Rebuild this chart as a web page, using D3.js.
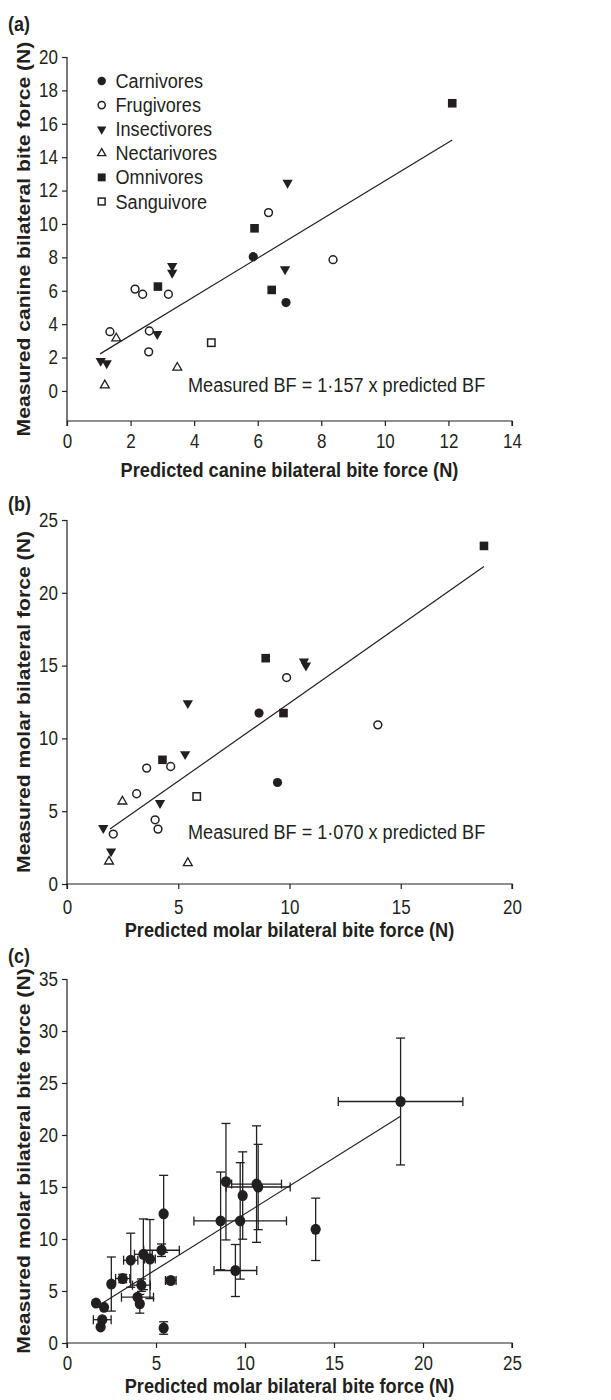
<!DOCTYPE html>
<html>
<head>
<meta charset="utf-8">
<script src="https://cdn.jsdelivr.net/npm/d3@7"></script>
<style>
  body { margin: 0; background: #fff; }
  text { font-family: "Liberation Sans", Arial, Helvetica, sans-serif; fill: #231f20; }
  .axis path, .axis line { stroke: #231f20; stroke-width: 1.2; }
  .axis text { font-size: 17px; }
</style>
</head>
<body>
<div id="chart"></div>
<script>
// Diet groups (legend order)
var dietGroups = ["Carnivores", "Frugivores", "Insectivores", "Nectarivores", "Omnivores", "Sanguivore"];

// (a) canine bite force
var canineDiet = ["Omnivores", "Omnivores", "Omnivores", "Omnivores",
  "Insectivores", "Insectivores", "Insectivores", "Insectivores", "Insectivores", "Insectivores", "Insectivores",
  "Frugivores", "Frugivores", "Frugivores", "Frugivores", "Frugivores", "Frugivores", "Frugivores", "Frugivores",
  "Carnivores", "Carnivores", "Sanguivore", "Nectarivores", "Nectarivores", "Nectarivores"];
var canineX = [12.12, 5.9, 2.86, 6.44,
  6.94, 3.31, 3.31, 6.86, 2.84, 1.06, 1.25,
  6.34, 8.37, 2.14, 2.38, 3.19, 1.35, 2.59, 2.57,
  5.86, 6.89, 4.54, 1.55, 3.47, 1.19];
var canineY = [17.23, 9.74, 6.25, 6.05,
  12.47, 7.48, 7.08, 7.29, 3.41, 1.8, 1.66,
  10.68, 7.86, 6.1, 5.79, 5.79, 3.55, 3.59, 2.34,
  8.04, 5.29, 2.89, 3.15, 1.4, 0.34];
var canineFitX = [1.04, 12.12];
var canineFitY = [2.22, 15.03];

// (b) and (c) molar bite force
var molarDiet = ["Omnivores", "Omnivores", "Omnivores", "Omnivores",
  "Insectivores", "Insectivores", "Insectivores", "Insectivores", "Insectivores", "Insectivores", "Insectivores",
  "Frugivores", "Frugivores", "Frugivores", "Frugivores", "Frugivores", "Frugivores", "Frugivores", "Frugivores",
  "Carnivores", "Carnivores", "Sanguivore", "Nectarivores", "Nectarivores", "Nectarivores"];
var molarX = [18.74, 8.93, 9.73, 4.29,
  10.65, 10.74, 5.43, 5.31, 4.18, 1.63, 1.98,
  9.87, 13.97, 4.66, 3.58, 3.13, 3.96, 4.09, 2.08,
  8.63, 9.46, 5.83, 2.49, 1.89, 5.43];
var molarY = [23.22, 15.51, 11.74, 8.53,
  15.28, 15.0, 12.42, 8.92, 5.56, 3.84, 2.24,
  14.18, 10.93, 8.07, 7.96, 6.2, 4.41, 3.77, 3.43,
  11.74, 6.97, 6.01, 5.67, 1.55, 1.44];
var molarXErr = [3.5, 0, 2.6, 0.5,
  1.4, 1.8, 0, 1.0, 0.5, 0, 0.5,
  0, 0, 0.3, 0.4, 0.4, 0.9, 0, 0,
  0, 1.2, 0.3, 0, 0, 0];
var molarYErr = [6.1, 5.6, 5.6, 3.4,
  5.6, 4.1, 3.7, 0.6, 0.6, 0, 0,
  4.2, 3.0, 3.8, 2.6, 0.4, 0, 0.9, 0,
  4.7, 2.5, 0.3, 2.6, 0, 0.6];
var molarFitX = [1.93, 18.74];
var molarFitY = [3.77, 21.8];

var ink = "#231f20";
var stretch = 1.15; // the original figure text is a little taller than wide
var width = 611, height = 1400;

var svg = d3.select("#chart")
  .append("svg")
  .attr("width", width)
  .attr("height", height);

// horizontal text, stretched vertically like the original
function addText(g, x, y, str, size, bold, anchor) {
  return g.append("text")
    .attr("transform", "translate(" + x + "," + y + ") scale(1," + stretch + ")")
    .attr("text-anchor", anchor || "start")
    .style("font-size", size + "px")
    .style("font-weight", bold ? "bold" : "normal")
    .text(str);
}

// marker drawing for each diet group
function drawMarker(g, diet, x, y, scale) {
  var s = scale || 1;
  if (diet == "Carnivores") {
    g.append("circle").attr("cx", x).attr("cy", y).attr("r", 4.6 * s).attr("fill", ink);
  } else if (diet == "Frugivores") {
    g.append("circle").attr("cx", x).attr("cy", y).attr("r", 3.9 * s)
      .attr("fill", "#fff").attr("stroke", ink).attr("stroke-width", 1.5);
  } else if (diet == "Insectivores") {
    g.append("path").attr("d", d3.symbol().type(d3.symbolTriangle).size(46 * s * s)())
      .attr("transform", "translate(" + x + "," + y + ") rotate(180)")
      .attr("fill", ink);
  } else if (diet == "Nectarivores") {
    g.append("path").attr("d", d3.symbol().type(d3.symbolTriangle).size(34 * s * s)())
      .attr("transform", "translate(" + x + "," + y + ")")
      .attr("fill", "#fff").attr("stroke", ink).attr("stroke-width", 1.3);
  } else if (diet == "Omnivores") {
    g.append("rect").attr("x", x - 4.3 * s).attr("y", y - 4.3 * s)
      .attr("width", 8.6 * s).attr("height", 8.6 * s).attr("fill", ink);
  } else if (diet == "Sanguivore") {
    g.append("rect").attr("x", x - 3.7 * s).attr("y", y - 3.7 * s)
      .attr("width", 7.4 * s).attr("height", 7.4 * s)
      .attr("fill", "#fff").attr("stroke", ink).attr("stroke-width", 1.5);
  }
}

// one scatter panel
function drawPanel(opt) {
  var g = svg.append("g");
  var x = d3.scaleLinear().domain(opt.xDomain).range([67, 512]);
  var y = d3.scaleLinear().domain(opt.yDomain).range(opt.yRange);

  g.append("g")
    .attr("class", "axis")
    .attr("transform", "translate(0," + opt.yRange[0] + ")")
    .call(d3.axisBottom(x).tickValues(opt.xTicks).tickSize(5).tickPadding(opt.xPad))
    .call(function(a) { a.select(".domain").attr("d", "M67,5V0H512V5"); })
    .call(function(a) { a.selectAll(".tick text").attr("transform", "scale(1," + stretch + ")"); });

  g.append("g")
    .attr("class", "axis")
    .attr("transform", "translate(67,0)")
    .call(d3.axisLeft(y).tickValues(opt.yTicks).tickSize(5).tickPadding(4))
    .call(function(a) { a.select(".domain").attr("d", "M0," + opt.yRange[1] + "V" + opt.yRange[0]); })
    .call(function(a) { a.selectAll(".tick text").attr("transform", "scale(1," + stretch + ")"); });

  g.selectAll(".axis text").attr("fill", ink).style("font-family", "'Liberation Sans', Arial, sans-serif");

  // axis titles
  addText(g, 289.5, opt.xTitleY, opt.xTitle, 18.2, true, "middle");

  var midY = (opt.yRange[0] + opt.yRange[1]) / 2;
  g.append("text")
    .attr("transform", "translate(23.5," + midY + ") rotate(-90) scale(" + stretch + ",1)")
    .attr("dy", "0.35em")
    .attr("text-anchor", "middle")
    .style("font-size", "18.4px")
    .style("font-weight", "bold")
    .text(opt.yTitle);

  // panel letter
  addText(g, 8, opt.letterY, opt.letter, 18, true);

  // fit line
  g.append("line")
    .attr("x1", x(opt.fitX[0])).attr("y1", y(opt.fitY[0]))
    .attr("x2", x(opt.fitX[1])).attr("y2", y(opt.fitY[1]))
    .attr("stroke", ink)
    .attr("stroke-width", 1.2);

  // error bars (panel c only)
  if (opt.xErr) {
    var eb = g.append("g").attr("stroke", ink).attr("stroke-width", 1.3).attr("fill", "none");
    var cap = 4.5;
    opt.xs.forEach(function(d, i) {
      var cx = x(d), cy = y(opt.ys[i]);
      var ye = opt.yErr[i], xe = opt.xErr[i];
      if (ye > 0) {
        var y1 = y(opt.ys[i] + ye), y2 = y(opt.ys[i] - ye);
        eb.append("line").attr("x1", cx).attr("x2", cx).attr("y1", y1).attr("y2", y2);
        eb.append("line").attr("x1", cx - cap).attr("x2", cx + cap).attr("y1", y1).attr("y2", y1);
        eb.append("line").attr("x1", cx - cap).attr("x2", cx + cap).attr("y1", y2).attr("y2", y2);
      }
      if (xe > 0) {
        var x1 = x(d - xe), x2 = x(d + xe);
        eb.append("line").attr("x1", x1).attr("x2", x2).attr("y1", cy).attr("y2", cy);
        eb.append("line").attr("x1", x1).attr("x2", x1).attr("y1", cy - cap).attr("y2", cy + cap);
        eb.append("line").attr("x1", x2).attr("x2", x2).attr("y1", cy - cap).attr("y2", cy + cap);
      }
    });
  }

  // points
  var pts = g.append("g");
  opt.xs.forEach(function(d, i) {
    if (opt.allFilled) {
      pts.append("ellipse").attr("cx", x(d)).attr("cy", y(opt.ys[i]))
        .attr("rx", 5.1).attr("ry", 5.5).attr("fill", ink);
    } else {
      drawMarker(pts, opt.diet[i], x(d), y(opt.ys[i]));
    }
  });

  // equation
  if (opt.equation) {
    addText(g, 188, opt.eqY, opt.equation, 18.1, false);
  }
  return g;
}

// (a)
var panelA = drawPanel({
  letter: "(a)", letterY: 31,
  xDomain: [0, 14], yDomain: [-1.8, 20], yRange: [421, 57],
  xTicks: d3.range(0, 15, 2), yTicks: d3.range(0, 21, 2), xPad: 6,
  xTitle: "Predicted canine bilateral bite force (N)", xTitleY: 477,
  yTitle: "Measured canine bilateral bite force (N)",
  xs: canineX, ys: canineY, diet: canineDiet,
  fitX: canineFitX, fitY: canineFitY,
  equation: "Measured BF = 1\u00b7157 x predicted BF", eqY: 392
});

// legend for (a)
var legend = panelA.append("g");
dietGroups.forEach(function(name, i) {
  var ly = 81 + i * 24.1;
  drawMarker(legend, name, 101.7, ly, 0.92);
  addText(legend, 115.5, ly + 7, name, 18.1, false);
});

// (b)
drawPanel({
  letter: "(b)", letterY: 511,
  xDomain: [0, 20], yDomain: [0, 25], yRange: [884, 520],
  xTicks: d3.range(0, 21, 5), yTicks: d3.range(0, 26, 5), xPad: 9,
  xTitle: "Predicted molar bilateral bite force (N)", xTitleY: 937,
  yTitle: "Measured molar bilateral force (N)",
  xs: molarX, ys: molarY, diet: molarDiet,
  fitX: molarFitX, fitY: molarFitY,
  equation: "Measured BF = 1\u00b7070 x predicted BF", eqY: 839
});

// (c)
drawPanel({
  letter: "(c)", letterY: 963,
  xDomain: [0, 25], yDomain: [0, 35], yRange: [1343, 979],
  xTicks: d3.range(0, 26, 5), yTicks: d3.range(0, 36, 5), xPad: 6.5,
  xTitle: "Predicted molar bilateral bite force (N)", xTitleY: 1393,
  yTitle: "Measured molar bilateral bite force (N)",
  xs: molarX, ys: molarY, diet: molarDiet, allFilled: true,
  xErr: molarXErr, yErr: molarYErr,
  fitX: molarFitX, fitY: molarFitY
});
</script>
</body>
</html>
